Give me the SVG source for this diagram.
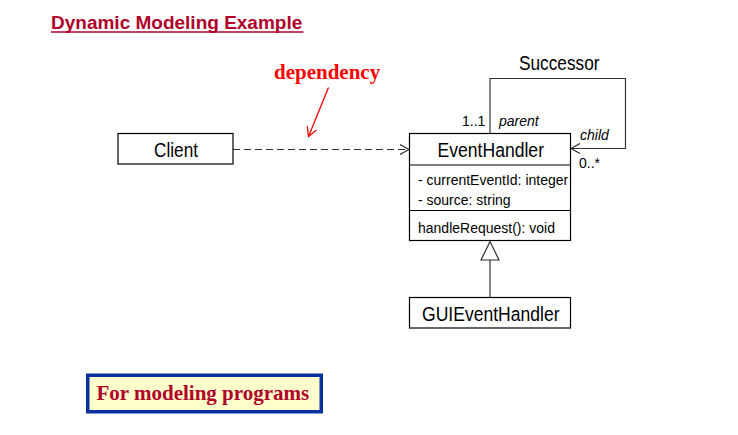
<svg xmlns="http://www.w3.org/2000/svg" width="738" height="435" viewBox="0 0 738 435">
<style>
.box{fill:#fff;stroke:#000;stroke-width:1.2}
.lbl{font-family:"Liberation Sans",Arial,sans-serif;font-size:20.5px;fill:#000}
.sm{font-family:"Liberation Sans",Arial,sans-serif;font-size:14px;fill:#000}
.it{font-style:italic}
.ln{fill:none;stroke:#333;stroke-width:1.2}
</style>
<defs>
<marker id="open" markerWidth="12" markerHeight="12" refX="9" refY="5" orient="auto" markerUnits="userSpaceOnUse" viewBox="0 0 12 10">
<path d="M0,0 L9,5 L0,10" fill="none" stroke="#333" stroke-width="1.2"/>
</marker>
<marker id="redopen" markerWidth="12" markerHeight="12" refX="9" refY="5" orient="auto" markerUnits="userSpaceOnUse" viewBox="0 0 12 10">
<path d="M0,0 L9,5 L0,10" fill="none" stroke="#f00" stroke-width="1.3"/>
</marker>
</defs>
<rect width="738" height="435" fill="#fff"/>
<g id="title">
<text x="51" y="29" font-family="'Liberation Sans',Arial,sans-serif" font-size="19" font-weight="bold" fill="#b0002a">Dynamic Modeling Example</text>
<line x1="51" y1="32" x2="303.5" y2="32" stroke="#b0002a" stroke-width="1.5"/>
</g>
<g id="note-dependency">
<text x="274" y="79" font-family="'Liberation Serif','Times New Roman',serif" font-size="21" font-weight="bold" fill="#f00">dependency</text>
<line x1="328.5" y1="87.5" x2="308.5" y2="136.5" stroke="#f00" stroke-width="1.3" marker-end="url(#redopen)"/>
</g>
<g id="connectors">
<line class="ln" x1="233" y1="149.5" x2="409" y2="149.5" stroke-dasharray="7,4" marker-end="url(#open)"/>
<polyline class="ln" points="490,133 490,78.5 625.5,78.5 625.5,148.5 571,148.5" marker-end="url(#open)"/>
<line class="ln" x1="490" y1="260" x2="490" y2="297"/>
<polygon points="490,241.5 481,260 499,260" fill="#fff" stroke="#333" stroke-width="1.2"/>
<text class="lbl" x="519" y="69.5" textLength="80.5" lengthAdjust="spacingAndGlyphs">Successor</text>
<text class="sm" x="462" y="126" font-size="13">1..1</text>
<text class="sm it" x="499" y="126">parent</text>
<text class="sm it" x="580" y="140">child</text>
<text class="sm" x="579" y="168" font-size="13">0..*</text>
</g>
<g id="client">
<rect class="box" x="118" y="133.5" width="115" height="30.5"/>
<text class="lbl" x="154" y="156.5" textLength="44" lengthAdjust="spacingAndGlyphs">Client</text>
</g>
<g id="eventhandler">
<rect class="box" x="409.5" y="133.5" width="161" height="107"/>
<line x1="409.5" y1="165" x2="570.5" y2="165" stroke="#000" stroke-width="1.2"/>
<line x1="409.5" y1="210.5" x2="570.5" y2="210.5" stroke="#000" stroke-width="1.2"/>
<text class="lbl" x="437.5" y="156.5" textLength="106.5" lengthAdjust="spacingAndGlyphs">EventHandler</text>
<text class="sm" x="418" y="185">- currentEventId: integer</text>
<text class="sm" x="418" y="205">- source: string</text>
<text class="sm" x="418" y="233">handleRequest(): void</text>
</g>
<g id="guieventhandler">
<rect class="box" x="409.5" y="297.5" width="161" height="30.5"/>
<text class="lbl" x="422" y="321" textLength="137.5" lengthAdjust="spacingAndGlyphs">GUIEventHandler</text>
</g>
<g id="note-programs">
<rect x="87.75" y="375.25" width="233.5" height="36.5" fill="#ffffcc" stroke="#0a2f9e" stroke-width="3.5"/>
<text x="96.5" y="399.5" font-family="'Liberation Serif','Times New Roman',serif" font-size="21" font-weight="bold" fill="#b0002a">For modeling programs</text>
</g>
</svg>
